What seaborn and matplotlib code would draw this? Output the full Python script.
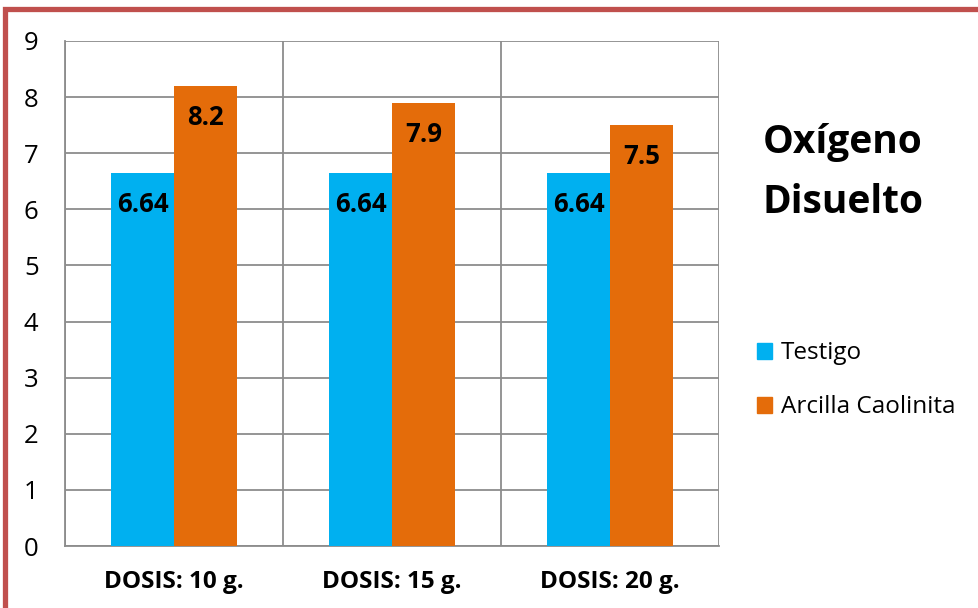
import matplotlib
matplotlib.use("Agg")
import matplotlib.pyplot as plt
import seaborn as sns
import pandas as pd
from matplotlib.patches import Rectangle

categories = ["DOSIS: 10 g.", "DOSIS: 15 g.", "DOSIS: 20 g."]
series_names = ["Testigo", "Arcilla Caolinita"]
testigo = [6.64, 6.64, 6.64]
arcilla = [8.2, 7.9, 7.5]
y_ticks = [0, 1, 2, 3, 4, 5, 6, 7, 8, 9]
title_lines = ["Oxígeno", "Disuelto"]

colors = ["#00B0F0", "#E46C0A"]
grid_color = "#8C8C8C"

sns.set_theme(style="white")
plt.rcParams["font.family"] = ["Open Sans", "DejaVu Sans"]
plt.rcParams["text.color"] = "black"
plt.rcParams["xtick.labelcolor"] = "black"
plt.rcParams["ytick.labelcolor"] = "black"

df = pd.DataFrame({
    "cat": categories * 2,
    "val": testigo + arcilla,
    "serie": [series_names[0]] * 3 + [series_names[1]] * 3,
})

W, H = 979, 608
fig = plt.figure(figsize=(W / 100, H / 100), dpi=100)
ax = fig.add_axes([65 / W, 1 - 546 / H, (719 - 65) / W, (546 - 41) / H])

sns.barplot(data=df, x="cat", y="val", hue="serie", palette=colors,
            width=0.575, gap=0, saturation=1, ax=ax, legend=False,
            linewidth=0, zorder=3, errorbar=None)

ax.set_xlim(-0.5, 2.5)
ax.set_ylim(0, 9)
ax.set_yticks(y_ticks)
ax.set_yticklabels([str(t) for t in y_ticks], fontsize=18.5)
ax.set_xticks(range(len(categories)))
ax.set_xticklabels(categories, fontsize=17.5, fontweight="bold")
ax.set_xticks([-0.5, 0.5, 1.5, 2.5], minor=True)
ax.set_xlabel("")
ax.set_ylabel("")

ax.tick_params(axis="x", which="major", length=0, pad=17,
               labelcolor="black")
ax.tick_params(axis="x", which="minor", length=8, direction="out",
               color=grid_color, width=1.3)
ax.tick_params(axis="y", length=8, direction="out", color=grid_color,
               width=1.3, pad=11, labelcolor="black")
ax.grid(axis="y", color=grid_color, linewidth=1.3, zorder=0)
ax.grid(axis="x", which="minor", color=grid_color, linewidth=1.3, zorder=0)
ax.set_axisbelow(True)
for side in ["top", "right"]:
    ax.spines[side].set_visible(False)
for side in ["left", "bottom"]:
    ax.spines[side].set_color(grid_color)
    ax.spines[side].set_linewidth(1.3)

# value labels just below the top of each bar
for container, vals in zip(ax.containers, [testigo, arcilla]):
    for bar, v in zip(container, vals):
        ax.text(bar.get_x() + bar.get_width() / 2, v - 0.56, f"{v:g}",
                ha="center", va="center", fontsize=18.5, fontweight="bold",
                color="black", zorder=5)

# title on the right
for line, yb in zip(title_lines, [153, 213]):
    fig.text(843 / W, 1 - yb / H, line, ha="center", va="baseline",
             fontsize=28, fontweight="bold", color="black")

# legend
for i, (name, c) in enumerate(zip(series_names, colors)):
    yb = 359 + 54 * i
    fig.patches.append(Rectangle((757 / W, 1 - yb / H), 15 / W, 16 / H,
                                 transform=fig.transFigure, color=c))
    fig.text(781 / W, 1 - yb / H, name, ha="left", va="baseline",
             fontsize=17.5, color="black")

# outer frame
frame = Rectangle((5.5 / W, -0.1), 1.2, 1 - 9.5 / H + 0.1,
                  transform=fig.transFigure, fill=False,
                  edgecolor="#C0504D", linewidth=3.8, clip_on=False)
fig.patches.append(frame)

fig.savefig("out.png", dpi=100)
